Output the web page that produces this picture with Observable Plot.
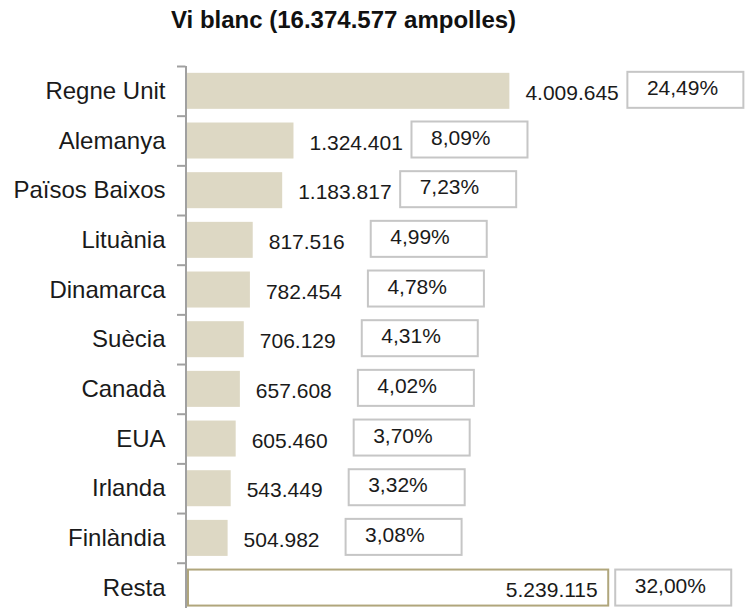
<!DOCTYPE html>
<html>
<head>
<meta charset="utf-8">
<script src="https://cdn.jsdelivr.net/npm/d3@7"></script>
<script src="https://cdn.jsdelivr.net/npm/@observablehq/plot@0.6"></script>
<style>
  html, body { margin: 0; padding: 0; background: #fff; overflow: hidden; }
  #title {
    box-sizing: border-box; height: 50px; padding: 7px 0 0 171px;
    font: bold 24px "Liberation Sans", Arial, sans-serif; color: #111; line-height: 26px;
    white-space: nowrap;
  }
</style>
</head>
<body>
<div id="title"></div>
<div id="chart"></div>
<script>
const titleText = "Vi blanc (16.374.577 ampolles)";
const names = ["Regne Unit", "Alemanya", "Països Baixos", "Lituània", "Dinamarca", "Suècia", "Canadà", "EUA", "Irlanda", "Finlàndia", "Resta"];
const values = [4009645, 1324401, 1183817, 817516, 782454, 706129, 657608, 605460, 543449, 504982, 5239115];
const percents = [24.49, 8.09, 7.23, 4.99, 4.78, 4.31, 4.02, 3.70, 3.32, 3.08, 32.00];
const restName = "Resta";

document.getElementById("title").textContent = titleText;

const loc = d3.formatLocale({decimal: ",", thousands: ".", grouping: [3], currency: ["", "€"]});
const fmtInt = loc.format(",d");
const fmtPct = loc.format(".2f");

const rows = names.map((name, i) => ({name, value: values[i], pct: percents[i]}));
const main = rows.filter(d => d.name !== restName);
const rest = rows.filter(d => d.name === restName);

const W = 748, H = 570;
const mTop = 16, mBottom = 7.6, mLeft = 187, mRight = 78.6;
const step = (H - mTop - mBottom) / names.length;
const pxPerUnit = (W - mLeft - mRight) / 6e6;
const font = "'Liberation Sans', Arial, sans-serif";
const txt = "#1a1a1a";
const boxOff = 118, boxW = 116, restOff = 7;

const chart = Plot.plot({
  width: W, height: H,
  marginTop: mTop, marginBottom: mBottom, marginLeft: mLeft, marginRight: mRight,
  style: {fontFamily: font, fontSize: "24px", color: txt, background: "#fff", overflow: "visible"},
  x: {domain: [0, 6e6], axis: null},
  y: {domain: names, paddingInner: 0.275, paddingOuter: 0.1375, round: false,
      tickSize: 0, tickPadding: 22, label: null},
  marks: [
    // axis line and boundary ticks
    Plot.ruleX([0], {stroke: "#a0a0a0", strokeWidth: 2, dx: -1.5}),
    Plot.ruleY(names, {y: d => d, x1: -8.5 / pxPerUnit, x2: 0, dx: -1.5, dy: -step / 2, stroke: "#a0a0a0", strokeWidth: 2}),
    // bars
    Plot.barX(main, {x: "value", y: "name", fill: "#ddd8c4"}),
    Plot.barX(rest, {x: "value", y: "name", fill: "#fff", stroke: "#b0a67c", strokeWidth: 2, insetLeft: 1}),
    // value labels
    Plot.text(main, {x: "value", y: "name", text: d => fmtInt(d.value), dx: 15.5, dy: 2, textAnchor: "start", fontSize: 21, fill: txt}),
    Plot.text(rest, {x: "value", y: "name", text: d => fmtInt(d.value), dx: -11, dy: 2, textAnchor: "end", fontSize: 21, fill: txt}),
    // percentage boxes
    Plot.barX(main, {x1: "value", x2: "value", y: "name", insetLeft: boxOff, insetRight: -(boxOff + boxW), dy: -1, fill: "#fff", stroke: "#c6c6c6", strokeWidth: 2}),
    Plot.barX(rest, {x1: "value", x2: "value", y: "name", insetLeft: restOff, insetRight: -(restOff + boxW), fill: "#fff", stroke: "#c6c6c6", strokeWidth: 2}),
    Plot.text(main, {x: "value", y: "name", text: d => fmtPct(d.pct) + "%", dx: boxOff + 19, dy: -3, textAnchor: "start", fontSize: 21, fill: txt}),
    Plot.text(rest, {x: "value", y: "name", text: d => fmtPct(d.pct) + "%", dx: restOff + 19, dy: -2, textAnchor: "start", fontSize: 21, fill: txt})
  ]
});
document.getElementById("chart").appendChild(chart);
</script>
</body>
</html>
